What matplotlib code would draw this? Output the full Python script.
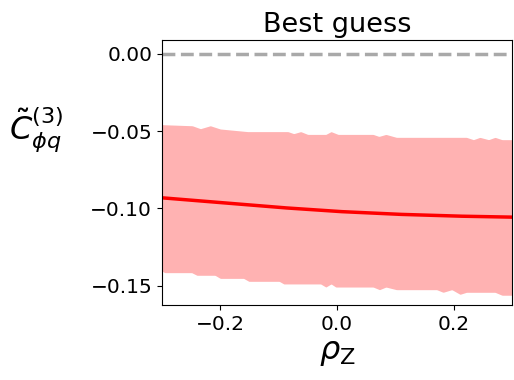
import matplotlib.pyplot as plt
import numpy as np

# best-guess curve
rho = [-0.3, -0.2, -0.1, 0.0, 0.1, 0.2, 0.3]
c3 = [-0.0931, -0.0962, -0.0993, -0.1019, -0.1037, -0.1049, -0.1056]

# upper edge of band
rho_up = [-0.300, -0.248, -0.234, -0.217, -0.200, -0.153, -0.084, -0.074, -0.062, -0.050,
          -0.019, -0.010, 0.002, 0.062, 0.072, 0.084, 0.102, 0.222, 0.234, 0.245,
          0.260, 0.271, 0.283, 0.303]
c3_up = [-0.0458, -0.0465, -0.0484, -0.0465, -0.0486, -0.0503, -0.0503, -0.0516, -0.0503, -0.0521,
         -0.0521, -0.0503, -0.0521, -0.0521, -0.0534, -0.0521, -0.0540, -0.0540, -0.0555, -0.0540,
         -0.0555, -0.0540, -0.0555, -0.0555]

# lower edge of band
rho_lo = [-0.300, -0.295, -0.249, -0.240, -0.209, -0.200, -0.160, -0.151, -0.099, -0.091,
          -0.028, -0.019, -0.010, -0.002, 0.062, 0.073, 0.084, 0.102, 0.171, 0.182,
          0.197, 0.211, 0.222, 0.271, 0.283, 0.303]
c3_lo = [-0.1405, -0.1415, -0.1415, -0.1432, -0.1432, -0.1452, -0.1452, -0.1471, -0.1471, -0.1488,
         -0.1488, -0.1508, -0.1488, -0.1508, -0.1508, -0.1525, -0.1508, -0.1525, -0.1525, -0.1542,
         -0.1525, -0.1555, -0.1542, -0.1542, -0.1561, -0.1561]

xs = np.linspace(-0.3, 0.3, 400)
up = np.interp(xs, rho_up, c3_up)
lo = np.interp(xs, rho_lo, c3_lo)
line = np.interp(xs, rho, c3)

fig = plt.figure(figsize=(5.14, 3.8), dpi=100)
ax = fig.add_axes([0.315, 0.197, 0.681, 0.698])

ax.fill_between(xs, lo, up, color='red', alpha=0.3, linewidth=0)
ax.plot(xs, line, color='red', lw=2.5)
ax.axhline(0, color='darkgray', ls='--', lw=2.5)

ax.set_xlim(-0.3, 0.3)
ax.set_ylim(-0.1625, 0.009)
ax.set_xticks([-0.2, 0.0, 0.2])
ax.set_yticks([0.0, -0.05, -0.10, -0.15])
ax.tick_params(labelsize=14.5)
ax.set_title('Best guess', fontsize=19.5)
ax.set_xlabel(r'$\rho_\mathrm{Z}$', fontsize=23, labelpad=2)
ax.set_ylabel(r'$\tilde{C}^{(3)}_{\phi q}$', fontsize=23, rotation=0)
ax.yaxis.set_label_coords(-0.36, 0.57)

fig.savefig('out.png', dpi=100)
